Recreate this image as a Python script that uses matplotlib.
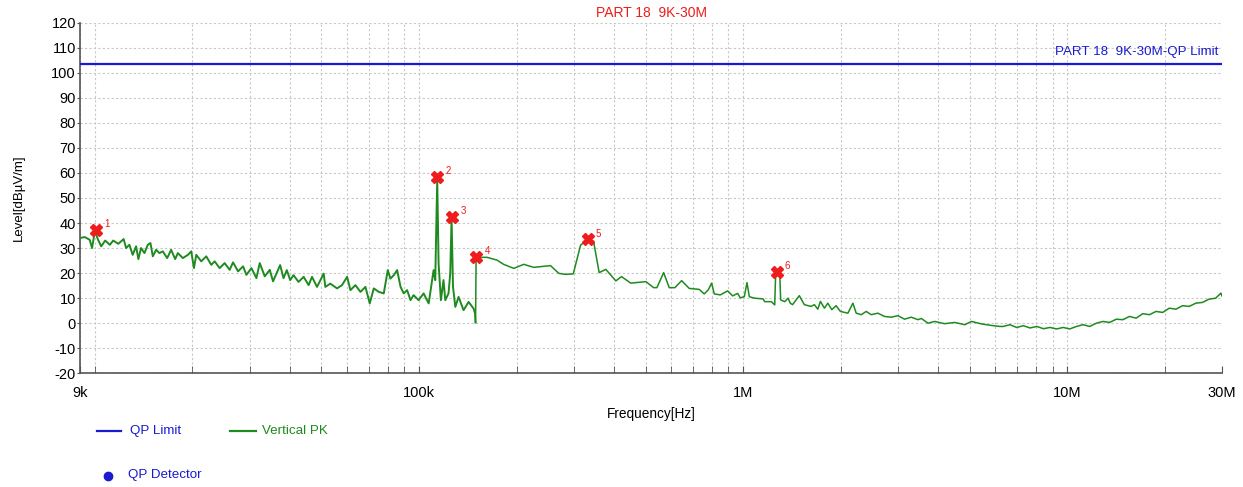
import numpy as np
import matplotlib
matplotlib.use("Agg")
import matplotlib.pyplot as plt
from matplotlib.lines import Line2D
from matplotlib.ticker import FixedLocator, NullFormatter

plt.rcParams['font.family'] = ['Liberation Sans', 'DejaVu Sans']
plt.rcParams['axes.unicode_minus'] = False

# limit line (dBuV/m)
limit_level = 103.5
limit_label = "PART 18  9K-30M-QP Limit"
title_text = "PART 18  9K-30M"

# Vertical PK trace, band 9k-150k (kHz, dBuV/m)
freq_a_khz = [9.0, 9.3, 9.64, 9.8, 10.0, 10.23, 10.46, 10.76, 11.12, 11.39, 11.81,
              12.27, 12.48, 12.78, 13.08, 13.4, 13.62, 13.88, 14.22, 14.56, 14.84,
              15.09, 15.45, 15.82, 16.2, 16.71, 17.19, 17.69, 18.03, 18.68, 19.36,
              19.83, 20.21, 20.55, 21.29, 22.06, 22.86, 23.41, 24.26, 25.14, 26.05,
              26.68, 27.65, 28.65, 29.34, 30.4, 31.5, 32.26, 33.42, 34.63, 35.45,
              36.56, 37.29, 38.19, 39.1, 40.04, 41.0, 42.48, 44.06, 45.65, 46.76,
              48.45, 50.8, 51.4, 53.25, 55.85, 57.86, 60.0, 61.43, 63.65, 65.96,
              68.33, 70.46, 72.5, 75.12, 77.84, 80.1, 81.6, 83.6, 85.6, 87.7, 89.7,
              91.9, 94.1, 96.2, 99.7, 103.3, 107.1, 110.9, 112.2, 113.8, 114.9,
              116.8, 119.0, 120.5, 123.3, 124.8, 126.0, 127.3, 129.4, 132.4, 137.2,
              142.2, 147.4, 148.8, 149.4]
level_a = [34.0, 34.4, 33.3, 30.0, 36.8, 33.3, 30.7, 33.0, 31.3, 33.0, 31.7,
           33.6, 30.0, 31.3, 27.3, 30.7, 25.6, 30.0, 28.0, 31.3, 32.0,
           26.7, 29.3, 28.0, 28.7, 26.0, 29.3, 25.6, 28.0, 26.0, 27.3,
           28.7, 22.0, 27.3, 24.7, 26.7, 23.3, 24.7, 22.0, 24.0, 21.3,
           24.3, 20.7, 22.7, 19.3, 22.0, 18.0, 24.0, 18.7, 21.3, 16.7,
           20.7, 23.2, 18.0, 21.2, 17.2, 19.2, 16.5, 18.5, 15.2, 18.5,
           14.5, 19.8, 14.5, 15.8, 13.9, 15.2, 18.5, 13.2, 15.2, 12.5,
           14.5, 7.9, 13.9, 12.5, 11.9, 21.2, 17.8, 19.2, 21.2, 14.5, 11.9,
           13.2, 9.2, 11.2, 9.2, 11.9, 7.9, 21.2, 17.2, 57.5, 23.8,
           9.2, 17.2, 9.2, 11.9, 19.8, 41.8, 14.5, 6.5, 10.5, 5.2,
           8.5, 5.8, 3.9, 0.3]

# Vertical PK trace, band 150k-30M (kHz, dBuV/m)
freq_b_khz = [150.0, 154.6, 162.1, 174.0, 182.4, 196.0, 210.4, 226.0, 254.4, 270.0,
              283.1, 299.1, 315.1, 329.4, 345.4, 359.5, 376.9, 404.7, 421.4, 450.0,
              501.2, 529.2, 541.8, 568.3, 591.4, 615.8, 645.8, 681.5, 731.8, 758.3,
              780.2, 799.3, 814.2, 849.7, 895.5, 928, 961.6, 979.5, 1007.8, 1027.5,
              1044.4, 1082, 1152, 1165, 1222, 1251, 1260, 1296, 1305, 1343, 1376,
              1397, 1420, 1490, 1544, 1620, 1658, 1699, 1731, 1781, 1824, 1877,
              1935, 1995, 2104, 2180, 2232, 2313, 2397, 2482, 2604, 2728, 2862,
              3002, 3146, 3300, 3462, 3544, 3717, 3896, 4183, 4493, 4825, 5061,
              5435, 5837, 6193, 6340, 6650, 6980, 7320, 7670, 8050, 8440, 8840,
              9260, 9710, 10170, 10670, 11180, 11720, 12290, 12880, 13500, 14160,
              14840, 15550, 16300, 17090, 17910, 18780, 19690, 20630, 21630,
              22680, 23760, 24910, 26120, 27360, 28690, 29760, 30000]
level_b = [26.3, 26.3, 26.3, 25.2, 23.5, 21.9, 23.5, 22.3, 23.0, 19.9,
           19.5, 19.7, 31.2, 33.0, 32.8, 20.2, 21.5, 16.9, 18.6, 16.0,
           16.6, 14.2, 14.2, 20.2, 14.2, 14.2, 17.0, 13.9, 13.5, 11.7,
           13.3, 16.0, 11.7, 11.3, 12.9, 10.9, 11.9, 10.1, 10.6, 16.2,
           10.6, 10.0, 9.7, 8.6, 8.6, 7.3, 20.5, 20.5, 9.3, 8.6, 10.0,
           8.0, 7.4, 11.0, 7.4, 6.7, 7.4, 5.6, 8.7, 6.0, 8.0, 5.4,
           7.0, 4.7, 4.0, 8.0, 4.0, 3.4, 4.7, 3.4, 4.0, 2.7, 2.4,
           3.0, 1.6, 2.4, 1.4, 1.9, 0.0, 0.7, -0.2, 0.3, -0.6, 0.7,
           -0.3, -0.9, -1.3, -1.3, -0.6, -1.7, -1.0, -1.9, -1.3, -2.2, -1.7,
           -2.3, -1.7, -2.3, -1.3, -0.6, -1.3, 0.0, 0.7, 0.3, 1.6,
           1.4, 2.7, 2.0, 3.8, 3.4, 4.7, 4.3, 6.0, 5.6,
           7.0, 6.7, 8.0, 8.3, 9.6, 10.0, 12.0, 10.9]

# peak markers
marker_freq_khz = [10.1, 114.0, 126.3, 150.3, 331.0, 1268.0]
marker_level = [37.2, 58.4, 42.5, 26.6, 33.5, 20.5]
marker_ids = ["1", "2", "3", "4", "5", "6"]

x_major = [9e3, 1e5, 1e6, 1e7, 3e7]
x_major_labels = ["9k", "100k", "1M", "10M", "30M"]
y_ticks = list(range(-20, 121, 10))

blue = "#1a1ad0"
green = "#1f8a1f"
red = "#ee1c1c"

fig = plt.figure(figsize=(12.43, 4.87), dpi=100)
ax = fig.add_axes([0.0644, 0.2335, 0.9187, 0.7199])

ax.plot(np.array(freq_a_khz) * 1e3, level_a, color=green, lw=1.4, zorder=3)
ax.plot(np.array([freq_a_khz[-1]] + freq_b_khz) * 1e3, [level_a[-1]] + level_b,
        color=green, lw=1.1, zorder=3)
ax.axhline(limit_level, color=blue, lw=1.6, zorder=4)
ax.plot(np.array(marker_freq_khz) * 1e3, marker_level, ls="none", marker="X",
        ms=8.5, color=red, mec=red, zorder=5)
for f, l, t in zip(marker_freq_khz, marker_level, marker_ids):
    ax.annotate(t, (f * 1e3, l), xytext=(6, 2), textcoords="offset points",
                color=red, fontsize=7, zorder=6)

ax.set_xscale("log")
ax.set_xlim(9e3, 3e7)
ax.set_ylim(-20, 120)
ax.set_xticks(x_major)
ax.set_xticklabels(x_major_labels)
minor = [m * 10 ** e for e in range(3, 8) for m in range(1, 10)]
minor = [v for v in minor if 9e3 < v < 3e7 and v not in x_major]
ax.xaxis.set_minor_locator(FixedLocator(minor))
ax.xaxis.set_minor_formatter(NullFormatter())
ax.set_yticks(y_ticks)

ax.grid(True, which="both", color="#c8c8c8", ls=(0, (2, 2)), lw=0.8)
for s in ["top", "right"]:
    ax.spines[s].set_visible(False)
for s in ["left", "bottom"]:
    ax.spines[s].set_color("#555555")
    ax.spines[s].set_linewidth(1.2)
ax.tick_params(axis="x", which="both", direction="in", length=5, color="#555555",
               labelsize=10.5, pad=9)
ax.tick_params(axis="y", direction="out", length=2, color="#555555", labelsize=10.5,
               pad=1)

ax.set_xlabel("Frequency[Hz]", fontsize=9.8, labelpad=5)
ax.set_ylabel("Level[dB\u00b5V/m]", fontsize=9.5, labelpad=19)
ax.set_title(title_text, color=red, fontsize=10, pad=4)
ax.text(0.997, limit_level + 2.5, limit_label, transform=ax.get_yaxis_transform(),
        ha="right", va="bottom", color=blue, fontsize=9.6)

# legend below the plot
fig.add_artist(Line2D([97 / 1243, 121 / 1243], [1 - 431 / 487] * 2, color=blue, lw=1.6))
fig.text(130 / 1243, 1 - 431 / 487, "QP Limit", color=blue, fontsize=9.6, va="center")
fig.add_artist(Line2D([230 / 1243, 256 / 1243], [1 - 431 / 487] * 2, color=green, lw=1.6))
fig.text(262 / 1243, 1 - 431 / 487, "Vertical PK", color=green, fontsize=9.6, va="center")
fig.add_artist(Line2D([108 / 1243], [1 - 476 / 487], color=blue, marker="o", ms=6, ls="none"))
fig.text(128 / 1243, 1 - 475 / 487, "QP Detector", color=blue, fontsize=9.6, va="center")

fig.savefig("out.png", dpi=100)
